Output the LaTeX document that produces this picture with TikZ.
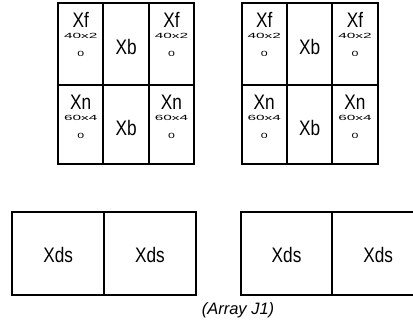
\documentclass[tikz,border=0pt]{standalone}
\usepackage{fontspec}
\setmainfont{Liberation Sans}
\newfontfamily\narrowfont[FakeStretch=0.82]{Liberation Sans}
\begin{document}
\begin{tikzpicture}[x=1pt,y=-1pt,
  cellbox/.style={draw=black,line width=2pt,inner sep=0pt,outer sep=0pt},
  bigtext/.style={inner sep=0pt,font=\narrowfont\fontsize{21}{21}\selectfont},
  fragtext/.style={inner sep=0pt,font=\narrowfont\fontsize{7.5}{7.5}\selectfont},
  captext/.style={inner sep=0pt,font=\itshape\fontsize{16.5}{16.5}\selectfont}]
\clip (0,0) rectangle (413,322);
% top grids
\foreach \g/\x in {L/58, R/241.5} {
  \foreach \r/\y/\h/\bigtxt/\smalltxt in {1/3/82/Xf/40x2, 2/85/79/Xn/60x4} {
    \foreach \c in {1,2,3} {
      \node[cellbox, minimum width=45.4pt, minimum height=\h pt] (\g\r\c) at ({\x+45.4*\c-22.7}, {\y+\h/2}) {};
    }
    \node[bigtext] (\g\r2-a) at ([yshift=-3pt]\g\r2.center) {Xb};
    \foreach \c in {1,3} {
      \node[bigtext, anchor=base] (\g\r\c-a) at ([yshift=-24pt]\g\r\c.north) {\bigtxt};
      \node[fragtext, anchor=base] (\g\r\c-b) at ([yshift=-35pt]\g\r\c.north) {\scalebox{2.5}[1]{\smalltxt}};
      \node[fragtext, anchor=base] (\g\r\c-c) at ([yshift=-53pt]\g\r\c.north) {\scalebox{2}[1]{0}};
    }
  }
}
% bottom boxes
\foreach \g/\x in {BL/12.3, BR/240.7} {
  \foreach \c in {1,2} {
    \node[cellbox, minimum width=91.7pt, minimum height=83pt] (\g\c) at ({\x+91.7*\c-45.85}, 253.5) {};
    \node[bigtext] (\g\c-t) at ([yshift=-1.5pt]\g\c.center) {Xds};
  }
}
\node[captext] (cap) at (238,310) {(Array J1)};
\end{tikzpicture}
\end{document}
